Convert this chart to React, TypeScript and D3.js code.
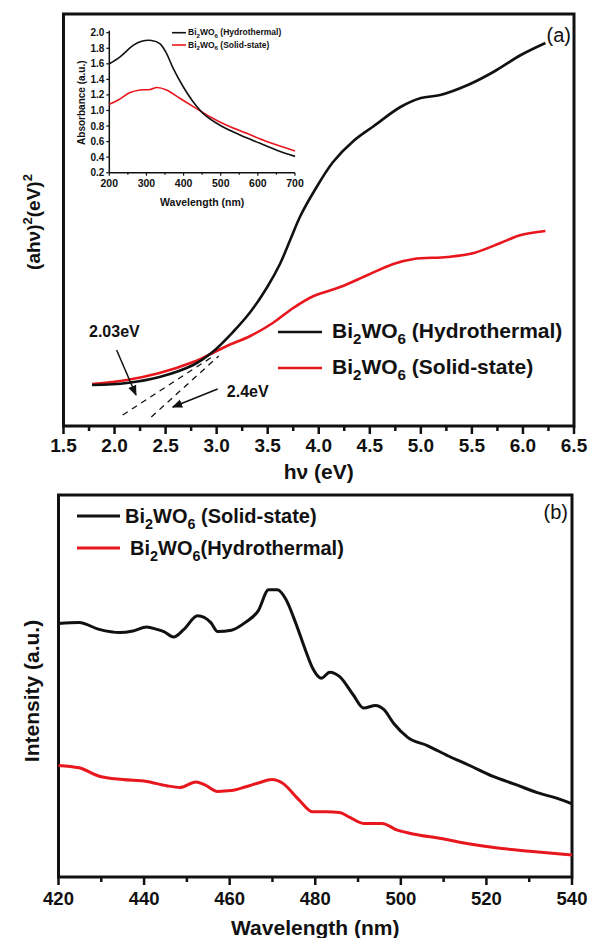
import * as d3 from 'd3'

// ---- panel (a): Tauc plot, (ahv)^2 vs hv ----
const A_HYDRO_EV = [1.78, 2.12, 2.44, 2.77, 2.96, 3.16, 3.33, 3.49, 3.62, 3.72, 3.82, 3.95, 4.14, 4.34, 4.54, 4.8, 5.0, 5.19, 5.46, 5.71, 5.98, 6.22]
const A_HYDRO = [10.25, 10.75, 12.25, 15.25, 18.5, 23.5, 28.5, 34.5, 40.5, 46.5, 52.5, 58.5, 66, 71.25, 75, 79.75, 82, 82.75, 85.25, 88.5, 92.75, 95.75]
const A_SOLID_EV = [1.78, 2.12, 2.44, 2.77, 2.96, 3.1, 3.33, 3.55, 3.75, 3.95, 4.21, 4.48, 4.73, 4.93, 5.26, 5.52, 5.78, 5.98, 6.22]
const A_SOLID = [10.5, 11.5, 13.25, 16, 18.25, 20, 22.5, 25.75, 29.5, 32.5, 34.75, 37.75, 40.5, 41.75, 42.25, 43.25, 45.75, 47.75, 48.75]
const A_TICKS = ['1.5', '2.0', '2.5', '3.0', '3.5', '4.0', '4.5', '5.0', '5.5', '6.0', '6.5']
// tangent extrapolations [eV, value] and arrows
const TANGENT_1 = [[2.08, 2.75], [2.97, 17.5]]
const TANGENT_2 = [[2.36, 2.25], [3.02, 17.5]]
const ARROW_1 = [[2.02, 19], [2.21, 7.75]]
const ARROW_2 = [[3.01, 9.25], [2.57, 4.75]]

// ---- inset: absorbance spectra ----
const IN_HYDRO_WL = [200, 229, 265, 287, 314, 336, 354, 372, 399, 426, 453, 498, 552, 606, 651, 700]
const IN_HYDRO = [1.6, 1.69, 1.84, 1.89, 1.9, 1.86, 1.735, 1.54, 1.305, 1.11, 0.96, 0.81, 0.685, 0.578, 0.49, 0.41]
const IN_SOLID_WL = [200, 224, 256, 283, 310, 328, 354, 390, 426, 471, 516, 570, 624, 700]
const IN_SOLID = [1.08, 1.135, 1.23, 1.263, 1.27, 1.295, 1.263, 1.157, 1.05, 0.92, 0.81, 0.706, 0.6, 0.48]
const IN_YTICKS = [0.2, 0.4, 0.6, 0.8, 1.0, 1.2, 1.4, 1.6, 1.8, 2.0]
const IN_XTICKS = [200, 300, 400, 500, 600, 700]

// ---- panel (b): PL spectra ----
const B_SOLID_WL = [420, 424.8, 429.5, 434.3, 437.4, 440.6, 443, 444.6, 446.9, 449.3, 452.5, 455.6, 457.2, 460.4, 463.6, 466.7, 469.1, 471.1, 473.1, 475.4, 477.8, 479.4, 481.4, 483.4, 485.7, 488.9, 491.3, 494.1, 496, 498.4, 501.6, 506.3, 511.1, 515.8, 521.4, 526.9, 531.7, 536.4, 540]
const B_SOLID = [63.4, 63.6, 61.9, 61.1, 61.5, 62.5, 61.9, 61.35, 60, 61.9, 65.3, 63.6, 61.35, 61.7, 63.6, 66.6, 71.8, 71.8, 69.5, 63.6, 56.45, 52.2, 49.7, 51.2, 50.1, 45.5, 42.25, 42.9, 41.9, 38.3, 34.9, 32.8, 30.25, 28, 25.2, 23.1, 21.15, 19.7, 18.3]
const B_HYDRO_WL = [420, 424.8, 429.5, 435, 440.6, 445.3, 448.5, 452.1, 454.1, 457.2, 460.4, 463.6, 466.7, 469.9, 472.3, 476.2, 479.4, 482.6, 485.7, 488.1, 491.3, 495.6, 499.2, 503.2, 509.5, 515.8, 522.2, 530.1, 540]
const B_HYDRO = [27.9, 27.3, 25.2, 24.35, 23.9, 22.8, 22.4, 23.75, 23.1, 21.4, 21.6, 22.5, 23.5, 24.35, 23.5, 19.3, 16.3, 16.3, 16.1, 14.9, 13.4, 13.4, 11.7, 10.7, 9.6, 8.3, 7.3, 6.45, 5.5]
const B_TICKS = [420, 440, 460, 480, 500, 520, 540]

const FONT = "Arial, 'Liberation Sans', Helvetica, sans-serif"
const RED = '#e8161d'
const INK = '#111'

const zip = (xs: number[], ys: number[]) => xs.map((x, i) => [x, ys[i]] as [number, number])

function Chem({ x, y, size, rest, fill = INK }: { x: number, y: number, size: number, rest: string, fill?: string }) {
  const sub = size * 0.72
  const d = size * 0.3
  return (
    <text x={x} y={y} fontSize={size} fontWeight="bold" fill={fill} fontFamily={FONT}>
      Bi<tspan fontSize={sub} dy={d}>2</tspan><tspan dy={-d}>WO</tspan><tspan fontSize={sub} dy={d}>6</tspan><tspan dy={-d}>{rest}</tspan>
    </text>
  )
}

export default function App() {
  // panel a scales
  const ax = d3.scaleLinear().domain([1.5, 6.5]).range([63.5, 574])
  const ay = d3.scaleLinear().domain([0, 103]).range([426, 14])
  const aLine = d3.line<[number, number]>().x(d => ax(d[0])).y(d => ay(d[1])).curve(d3.curveCatmullRom.alpha(0.5))

  // inset scales
  const ix = d3.scaleLinear().domain([200, 700]).range([109.3, 295])
  const iy = d3.scaleLinear().domain([0.2, 2.0]).range([172.7, 32.7])
  const iLine = d3.line<[number, number]>().x(d => ix(d[0])).y(d => iy(d[1])).curve(d3.curveCatmullRom.alpha(0.5))

  // panel b scales
  const bx = d3.scaleLinear().domain([420, 540]).range([58.5, 572])
  const by = d3.scaleLinear().domain([0, 95.5]).range([877, 495])
  const bLine = d3.line<[number, number]>().x(d => bx(d[0])).y(d => by(d[1])).curve(d3.curveMonotoneX)

  const aMinor = d3.range(1.75, 6.5, 0.5)
  const bMinor = d3.range(430, 540, 20)
  const inMinor = d3.range(250, 700, 100)

  const seg = (p: number[][]) => ({ x1: ax(p[0][0]), y1: ay(p[0][1]), x2: ax(p[1][0]), y2: ay(p[1][1]) })

  return (
    <div style={{ position: 'absolute', left: 0, top: 0 }}>
      <svg width={593} height={938} style={{ display: 'block', background: '#fff' }} fontFamily={FONT}>
        <defs>
          <marker id="arr" viewBox="0 0 10 10" refX="9" refY="5" markerWidth="7" markerHeight="7" orient="auto">
            <path d="M0,1 L10,5 L0,9 z" fill={INK} />
          </marker>
        </defs>

        {/* ---------- panel (a) ---------- */}
        <rect x={ax(1.5)} y={ay(103)} width={ax(6.5) - ax(1.5)} height={ay(0) - ay(103)} fill="none" stroke={INK} strokeWidth={3} />
        {A_TICKS.map(t => (
          <g key={t} transform={`translate(${ax(+t)},${ay(0)})`}>
            <line y2={8} stroke={INK} strokeWidth={2.5} />
            <text y={26} textAnchor="middle" fontSize={19} fontWeight="bold" fill={INK}>{t}</text>
          </g>
        ))}
        {aMinor.map(t => <line key={t} x1={ax(t)} x2={ax(t)} y1={ay(0)} y2={ay(0) + 5} stroke={INK} strokeWidth={2.5} />)}
        <text x={(ax(1.5) + ax(6.5)) / 2} y={479} textAnchor="middle" fontSize={21} fontWeight="bold" fill={INK}>hν (eV)</text>
        <text transform={`translate(40,${ay(51)}) rotate(-90)`} textAnchor="middle" fontSize={19} fontWeight="bold" fill={INK}>
          (ahν)<tspan fontSize={13} dy={-8}>2</tspan><tspan dy={8}>(eV)</tspan><tspan fontSize={13} dy={-8}>2</tspan>
        </text>
        <text x={571} y={42} textAnchor="end" fontSize={20} fill={INK}>(a)</text>

        <line {...seg(TANGENT_1)} stroke={INK} strokeWidth={1.3} strokeDasharray="6 5" />
        <line {...seg(TANGENT_2)} stroke={INK} strokeWidth={1.3} strokeDasharray="6 5" />
        <path d={aLine(zip(A_SOLID_EV, A_SOLID)) ?? ''} fill="none" stroke={RED} strokeWidth={2.6} />
        <path d={aLine(zip(A_HYDRO_EV, A_HYDRO)) ?? ''} fill="none" stroke={INK} strokeWidth={2.6} />
        <line {...seg(ARROW_1)} stroke={INK} strokeWidth={1.5} markerEnd="url(#arr)" />
        <line {...seg(ARROW_2)} stroke={INK} strokeWidth={1.5} markerEnd="url(#arr)" />
        <text x={ax(1.75)} y={ay(22.25)} fontSize={16} fontWeight="bold" fill={INK}>2.03eV</text>
        <text x={ax(3.1)} y={ay(7.25)} fontSize={16} fontWeight="bold" fill={INK}>2.4eV</text>

        <line x1={278} x2={322} y1={332} y2={332} stroke={INK} strokeWidth={2.6} />
        <line x1={278} x2={322} y1={368} y2={368} stroke={RED} strokeWidth={2.6} />
        <Chem x={332} y={338} size={21} rest=" (Hydrothermal)" />
        <Chem x={332} y={374} size={21} rest=" (Solid-state)" />

        {/* ---------- inset ---------- */}
        <line x1={ix(200)} x2={ix(700)} y1={iy(0.2)} y2={iy(0.2)} stroke={INK} strokeWidth={1.5} />
        <line x1={ix(200)} x2={ix(200)} y1={iy(0.2)} y2={iy(2.0) - 2} stroke={INK} strokeWidth={1.5} />
        {IN_YTICKS.map(t => (
          <g key={t} transform={`translate(${ix(200)},${iy(t)})`}>
            <line x2={-3} stroke={INK} strokeWidth={1.2} />
            <text x={-5} dy="0.35em" textAnchor="end" fontSize={10} fontWeight="bold" fill={INK}>{t.toFixed(1)}</text>
          </g>
        ))}
        {IN_XTICKS.map(t => (
          <g key={t} transform={`translate(${ix(t)},${iy(0.2)})`}>
            <line y2={3} stroke={INK} strokeWidth={1.2} />
            <text y={14} textAnchor="middle" fontSize={10.5} fontWeight="bold" fill={INK}>{t}</text>
          </g>
        ))}
        {inMinor.map(t => <line key={t} x1={ix(t)} x2={ix(t)} y1={iy(0.2)} y2={iy(0.2) + 2} stroke={INK} strokeWidth={1.2} />)}
        <text x={(ix(200) + ix(700)) / 2} y={206} textAnchor="middle" fontSize={10.5} fontWeight="bold" fill={INK}>Wavelength (nm)</text>
        <text transform={`translate(85,${iy(1.1)}) rotate(-90)`} textAnchor="middle" fontSize={10} fontWeight="bold" fill={INK}>Absorbance (a.u.)</text>
        <path d={iLine(zip(IN_SOLID_WL, IN_SOLID)) ?? ''} fill="none" stroke={RED} strokeWidth={1.6} />
        <path d={iLine(zip(IN_HYDRO_WL, IN_HYDRO)) ?? ''} fill="none" stroke={INK} strokeWidth={1.6} />
        <line x1={172} x2={186} y1={32.7} y2={32.7} stroke={INK} strokeWidth={1.6} />
        <line x1={172} x2={186} y1={45} y2={45} stroke={RED} strokeWidth={1.6} />
        <Chem x={188} y={35} size={8.5} rest="  (Hydrothermal)" />
        <Chem x={188} y={47.5} size={8.5} rest=" (Solid-state)" />

        {/* ---------- panel (b) ---------- */}
        <rect x={bx(420)} y={by(95.5)} width={bx(540) - bx(420)} height={by(0) - by(95.5)} fill="none" stroke={INK} strokeWidth={3} />
        {B_TICKS.map(t => (
          <g key={t} transform={`translate(${bx(t)},${by(0)})`}>
            <line y2={8} stroke={INK} strokeWidth={2.5} />
            <text y={28} textAnchor="middle" fontSize={18.5} fontWeight="bold" fill={INK}>{t}</text>
          </g>
        ))}
        {bMinor.map(t => <line key={t} x1={bx(t)} x2={bx(t)} y1={by(0)} y2={by(0) + 5} stroke={INK} strokeWidth={2.5} />)}
        <text x={(bx(420) + bx(540)) / 2} y={935} textAnchor="middle" fontSize={21} fontWeight="bold" fill={INK}>Wavelength (nm)</text>
        <text transform={`translate(39,${by(46.5)}) rotate(-90)`} textAnchor="middle" fontSize={21} fontWeight="bold" fill={INK}>Intensity (a.u.)</text>
        <text x={568} y={519} textAnchor="end" fontSize={20} fill={INK}>(b)</text>

        <path d={bLine(zip(B_HYDRO_WL, B_HYDRO)) ?? ''} fill="none" stroke={RED} strokeWidth={3} />
        <path d={bLine(zip(B_SOLID_WL, B_SOLID)) ?? ''} fill="none" stroke={INK} strokeWidth={3} />
        <line x1={77} x2={120} y1={516} y2={516} stroke={INK} strokeWidth={3} />
        <line x1={77} x2={120} y1={548} y2={548} stroke={RED} strokeWidth={3} />
        <Chem x={125} y={523} size={20} rest=" (Solid-state)" />
        <Chem x={130} y={555} size={20} rest="(Hydrothermal)" />
      </svg>
    </div>
  )
}
